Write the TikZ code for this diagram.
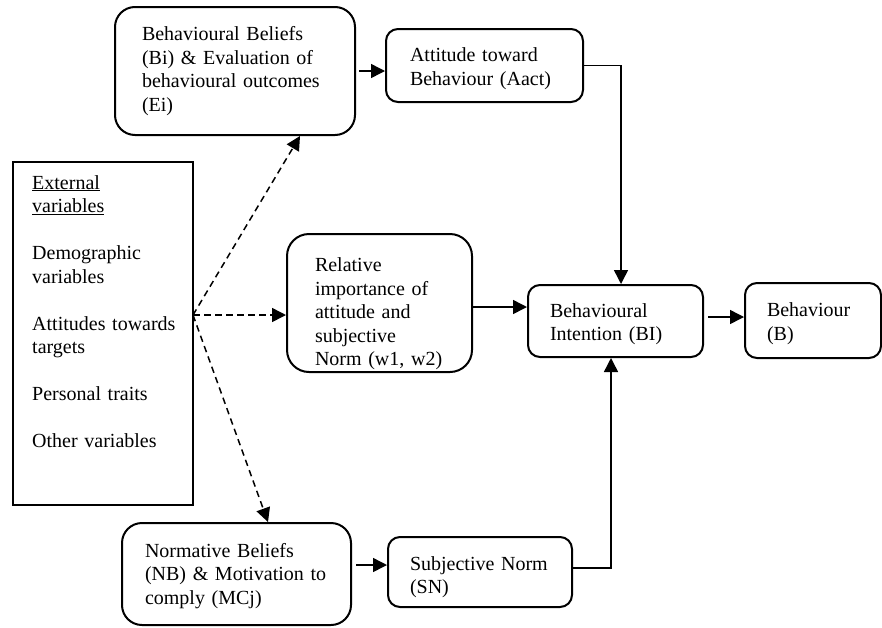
\documentclass[tikz,border=0pt]{standalone}
\usepackage{fontspec}
\setmainfont{Liberation Serif}
\usetikzlibrary{arrows.meta}
% invisible strut that heightens the first line, pushing a centred block down
\newcommand\headroom[1]{\rule{0pt}{#1}}
\begin{document}
\begin{tikzpicture}[x=1pt,y=-1pt,
  lbl/.style={font=\fontsize{20pt}{23.5pt}\selectfont, align=left},
  rbox/.style={lbl, draw, line width=2pt, rounded corners=#1, inner ysep=0pt},
  rbox/.default=12pt,
  conn/.style={line width=1.5pt, -{Triangle[length=14pt,width=14pt]}},
  dconn/.style={conn, dash pattern=on 6.5pt off 4.5pt}
]
\useasboundingbox (0,0) rectangle (882,627);

% external variables box and its list
\node[draw, line width=2pt, minimum width=180pt, minimum height=343pt, inner sep=0pt] (ext) at (103,333.5) {};
\node[lbl, anchor=base west, text width=160pt, inner sep=0pt] (extlist) at (32,189)
  {\underline{External}\\ \underline{variables}\\[23.5pt]
   Demographic\\ variables\\[23.5pt]
   Attitudes towards\\ targets\\[23.5pt]
   Personal traits\\[23.5pt]
   Other variables};

% model boxes
\node[rbox=20pt, minimum width=240pt, minimum height=128pt, text width=186pt, inner xsep=27pt] (b1) at (235,71)
  {Behavioural Beliefs\\ (Bi) \& Evaluation of\\ behavioural outcomes\\ (Ei)};
\node[rbox, minimum width=197pt, minimum height=73pt, text width=149pt, inner xsep=24pt] (att) at (484.5,65.5)
  {\headroom{20pt}Attitude toward\\ Behaviour (Aact)};
\node[rbox=22pt, minimum width=185pt, minimum height=138pt, text width=129pt, inner xsep=28pt] (rel) at (379.5,303)
  {\headroom{36pt}Relative\\ importance of\\ attitude and\\ subjective\\ Norm (w1, w2)};
\node[rbox, minimum width=175pt, minimum height=72pt, text width=131pt, inner xsep=22pt] (bi) at (615.5,321)
  {\headroom{20pt}Behavioural\\ Intention (BI)};
\node[rbox, minimum width=136pt, minimum height=75pt, text width=92pt, inner xsep=22pt] (b) at (813,320.5)
  {\headroom{20pt}Behaviour\\ (B)};
\node[rbox=20pt, minimum width=229pt, minimum height=102pt, text width=183pt, inner xsep=23pt] (nb) at (236.5,574)
  {\headroom{18pt}Normative Beliefs\\ (NB) \& Motivation to\\ comply (MCj)};
\node[rbox, minimum width=184pt, minimum height=70pt, text width=140pt, inner xsep=22pt] (sn) at (480,572)
  {\headroom{24pt}Subjective Norm\\ (SN)};

% fan-out point of the external variables
\coordinate (fan) at (193,315);

% dashed influences
\draw[dconn] (fan) -- ([xshift=65pt]b1.south);
\draw[dconn] (fan) -- (fan -| rel.west);
\draw[dconn] (fan) -- ([xshift=31.5pt]nb.north);

% solid paths
\draw[conn, shorten <=3pt] (b1.east) -- (b1.east -| att.west);
\draw[conn] (att.east) -| ([xshift=5.5pt]bi.north);
\draw[conn] ([yshift=-4pt]rel.east) -- ([yshift=-4pt]rel.east -| bi.west);
\draw[conn, shorten <=4pt] ([yshift=4pt]bi.east) -- ([yshift=4pt]bi.east -| b.west);
\draw[conn, shorten <=4pt] ([yshift=9pt]nb.east) -- ([yshift=9pt]nb.east -| sn.west);
\draw[conn] ([yshift=4pt]sn.east) -| ([xshift=-4.5pt]bi.south);
\end{tikzpicture}
\end{document}
